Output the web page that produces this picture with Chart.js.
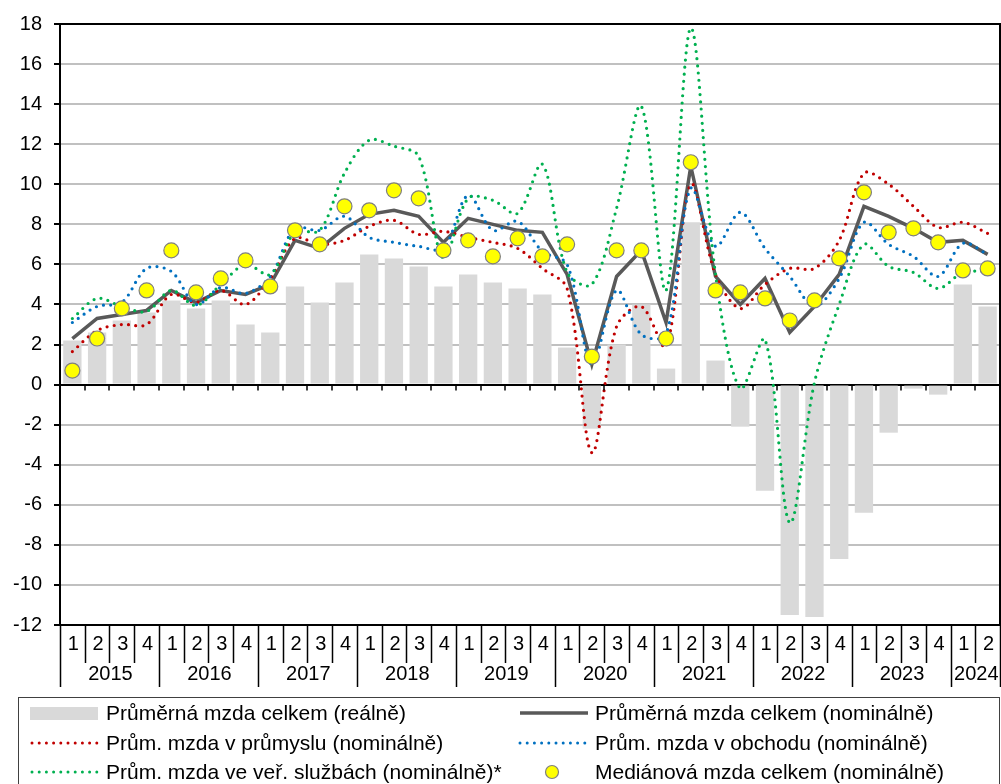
<!DOCTYPE html>
<html><head><meta charset="utf-8">
<script src="https://cdn.jsdelivr.net/npm/chart.js@4.4.1/dist/chart.umd.min.js"></script>
<style>
html,body{margin:0;padding:0;background:#fff;}
#wrap{position:relative;width:1001px;height:784px;overflow:hidden;font-family:'Liberation Sans',Arial,sans-serif;background:#fff;}
#c{position:absolute;left:0;top:0;}
#legend{position:absolute;left:18px;top:697px;width:982px;height:120px;border:1px solid #404040;box-sizing:border-box;}
.txt{position:absolute;font-size:21px;line-height:24px;color:#000;white-space:nowrap;transform:translateY(-50%);}
.sym{position:absolute;}
</style></head>
<body><div id="wrap"><canvas id="c" width="1001" height="784"></canvas><div id="legend"></div></div>
<script>
// ---- data ----
const quarterLabels = ['1','2','3','4','1','2','3','4','1','2','3','4','1','2','3','4','1','2','3','4',
                       '1','2','3','4','1','2','3','4','1','2','3','4','1','2','3','4','1','2'];
const yearLabels = ['2015','2016','2017','2018','2019','2020','2021','2022','2023','2024'];
const yearSpans  = [4,4,4,4,4,4,4,4,4,2];

const realTotal = [2.2,2.6,3.2,3.6, 4.2,3.8,4.2,3.0, 2.6,4.9,4.1,5.1, 6.5,6.3,5.9,4.9, 5.5,5.1,4.8,4.5,
                   1.85,-2.2,2.0,4.0, 0.8,8.1,1.2,-2.1, -5.3,-11.5,-11.6,-8.7, -6.4,-2.4,-0.2,-0.5, 5.0,3.9];
const nominalTotal = [2.3,3.3,3.5,3.7, 4.7,4.1,4.7,4.5, 5.0,7.2,6.8,7.8, 8.5,8.7,8.4,7.1, 8.3,8.0,7.7,7.6,
                      5.5,1.0,5.4,6.7, 3.1,10.9,5.4,4.0, 5.3,2.6,3.9,5.5, 8.9,8.4,7.8,7.1, 7.2,6.5];
const industry = [1.65,2.7,3.0,3.0, 4.5,4.1,4.7,4.0, 5.3,7.3,7.0,7.2, 7.9,8.2,7.5,7.65, 7.35,7.1,6.8,5.8,
                  4.8,-3.4,2.9,3.9, 1.9,10.0,5.5,3.8, 5.0,5.8,5.8,7.2, 10.55,10.0,8.9,7.85, 8.1,7.55];
const trade = [3.1,3.9,4.1,5.8, 5.65,4.0,4.85,4.55, 5.4,7.8,7.7,8.4, 7.35,7.1,6.9,6.8, 9.45,7.7,8.15,6.65,
               6.0,1.0,4.7,2.5, 2.5,9.8,6.9,8.6, 6.8,5.4,3.9,5.3, 8.1,7.0,6.4,5.4, 7.05,6.5];
const publicServices = [3.3,4.3,3.9,3.65, 4.7,3.95,5.0,6.0, 5.5,7.6,7.7,10.55, 12.2,11.9,11.4,6.3, 9.3,9.2,8.55,11.0,
                        5.6,5.0,8.8,13.9, 4.7,17.8,5.5,-0.2, 2.25,-6.9,0.1,4.0, 7.0,5.9,5.6,4.8, 5.6,5.65];
const medianTotal = [0.7,2.3,3.8,4.7, 6.7,4.6,5.3,6.2, 4.9,7.7,7.0,8.9, 8.7,9.7,9.3,6.7, 7.2,6.4,7.3,6.4,
                     7.0,1.4,6.7,6.7, 2.3,11.1,4.7,4.6, 4.3,3.2,4.2,6.3, 9.6,7.6,7.8,7.1, 5.7,5.8];
const yTicks = {min:-12, max:18, step:2};

const seriesNames = ['Průměrná mzda celkem (reálně)','Průměrná mzda celkem (nominálně)',
  'Prům. mzda v průmyslu (nominálně)','Prům. mzda v obchodu (nominálně)',
  'Prům. mzda ve veř. službách (nominálně)*','Mediánová mzda celkem (nominálně)'];

const FONT = "'Liberation Sans', Arial, sans-serif";
const C = {bar:'#d9d9d9', dark:'#595959', red:'#c00000', blue:'#0070c0', green:'#00b050', yellow:'#ffff00'};

const dotted = (color) => ({type:'line', borderColor:color, borderWidth:3.2, borderDash:[0,7.2],
  borderCapStyle:'round', pointRadius:0, tension:0.33, fill:false});

const axisDeco = {
  id:'axisDeco',
  afterDraw(chart){
    const {ctx, chartArea:a, scales:{x, y}} = chart;
    const n = quarterLabels.length;
    const half = (x.getPixelForValue(1) - x.getPixelForValue(0)) / 2;
    ctx.save();
    ctx.strokeStyle = '#000';
    ctx.lineWidth = 2;
    ctx.strokeRect(a.left, a.top, a.right - a.left, a.bottom - a.top);
    const y0 = y.getPixelForValue(0);
    ctx.lineWidth = 1.5;
    ctx.beginPath();
    for (let k = 0; k <= n; k++) {
      const px = Math.round(x.getPixelForValue(0) - half + 2*half*k);
      ctx.moveTo(px, y0); ctx.lineTo(px, y0 + 6);
    }
    ctx.stroke();
    // separators
    const yearBounds = new Set([0]);
    let acc = 0; yearSpans.forEach(s => { acc += s; yearBounds.add(acc); });
    ctx.beginPath();
    for (let k = 0; k <= n; k++) {
      const px = Math.round(x.getPixelForValue(0) - half + 2*half*k) + 0.5;
      ctx.moveTo(px, a.bottom);
      ctx.lineTo(px, yearBounds.has(k) ? a.bottom + 62 : a.bottom + 38);
    }
    ctx.stroke();
    ctx.fillStyle = '#000';
    ctx.font = '20px ' + FONT;
    ctx.textAlign = 'center'; ctx.textBaseline = 'middle';
    quarterLabels.forEach((q, i) => ctx.fillText(q, x.getPixelForValue(i) + 1, a.bottom + 19));
    let start = 0;
    yearLabels.forEach((yl, j) => {
      const end = start + yearSpans[j] - 1;
      const cx = (x.getPixelForValue(start) + x.getPixelForValue(end)) / 2;
      ctx.fillText(yl, cx + 1, a.bottom + 49);
      start += yearSpans[j];
    });
    ctx.restore();
  }
};

new Chart(document.getElementById('c'), {
  data: {
    labels: quarterLabels.map((q, i) => i),
    datasets: [
      {type:'line', label:seriesNames[5], data:medianTotal, showLine:false, pointRadius:7.5, pointHoverRadius:7.5,
       pointBackgroundColor:C.yellow, pointBorderColor:'#7f7f7f', pointBorderWidth:1.2, order:0},
      Object.assign(dotted(C.green), {label:seriesNames[4], data:publicServices, order:1}),
      Object.assign(dotted(C.blue), {label:seriesNames[3], data:trade, order:2}),
      Object.assign(dotted(C.red), {label:seriesNames[2], data:industry, order:3}),
      {type:'line', label:seriesNames[1], data:nominalTotal, borderColor:C.dark, borderWidth:3.5,
       pointRadius:0, tension:0, fill:false, order:4},
      {type:'bar', label:seriesNames[0], data:realTotal, backgroundColor:C.bar, barPercentage:0.74,
       categoryPercentage:1, order:5}
    ]
  },
  options: {
    responsive:false, animation:false, devicePixelRatio:1,
    layout:{autoPadding:false, padding:{top:24, right:1, left:0, bottom:0}},
    plugins:{legend:{display:false}, tooltip:{enabled:false}},
    scales:{
      x:{type:'category', offset:true, grid:{display:false}, border:{display:false},
         ticks:{display:false}, afterFit(s){ s.height = 159; s.paddingLeft = 0; s.paddingRight = 0; }},
      y:{min:yTicks.min, max:yTicks.max,
         ticks:{stepSize:yTicks.step, color:'#000', font:{family:FONT, size:20}, padding:12},
         grid:{color:(c)=> (c.tick && (c.tick.value===0)) ? '#000' : '#c0c0c0', lineWidth:2,
               tickColor:'#000', tickLength:6},
         border:{display:true, color:'#000', width:2},
         afterFit(s){ s.width = 60; s.paddingLeft = 0; s.paddingRight = 0; }}
    }
  },
  plugins:[axisDeco]
});

// ---- legend (HTML) ----
const lg = document.getElementById('legend');
const ox = 18, oy = 697;
const rows = [713, 743, 772];
const svgLine = (color, dash, w) => `<svg width="74" height="8" style="display:block"><line x1="2" y1="4" x2="72" y2="4" stroke="${color}" stroke-width="${w}" stroke-linecap="round" ${dash?`stroke-dasharray="0 7.2"`:''}/></svg>`;
const items = [
  {col:0,row:0,sym:`<div style="width:68px;height:13px;background:${C.bar}"></div>`, h:13},
  {col:1,row:0,sym:`<svg width="74" height="8" style="display:block"><line x1="2" y1="4" x2="70" y2="4" stroke="${C.dark}" stroke-width="3.5"/></svg>`, h:8},
  {col:0,row:1,sym:svgLine(C.red,true,3), h:8},
  {col:1,row:1,sym:svgLine(C.blue,true,3), h:8},
  {col:0,row:2,sym:svgLine(C.green,true,3), h:8},
  {col:1,row:2,sym:`<svg width="74" height="16" style="display:block"><circle cx="34" cy="8" r="6.5" fill="${C.yellow}" stroke="#7f7f7f" stroke-width="1.2"/></svg>`, h:16}
];
items.forEach((it, i) => {
  const sx = it.col === 0 ? 30 : 518;
  const tx = it.col === 0 ? 106 : 595;
  const cy = rows[it.row];
  const s = document.createElement('div'); s.className = 'sym';
  s.style.left = (sx - ox - 1) + 'px'; s.style.top = (cy - oy - 1 - it.h/2) + 'px';
  s.innerHTML = it.sym; lg.appendChild(s);
  const t = document.createElement('div'); t.className = 'txt';
  t.style.left = (tx - ox - 1) + 'px'; t.style.top = (cy - oy - 1) + 'px';
  t.textContent = seriesNames[i]; lg.appendChild(t);
});
</script>
</body></html>
